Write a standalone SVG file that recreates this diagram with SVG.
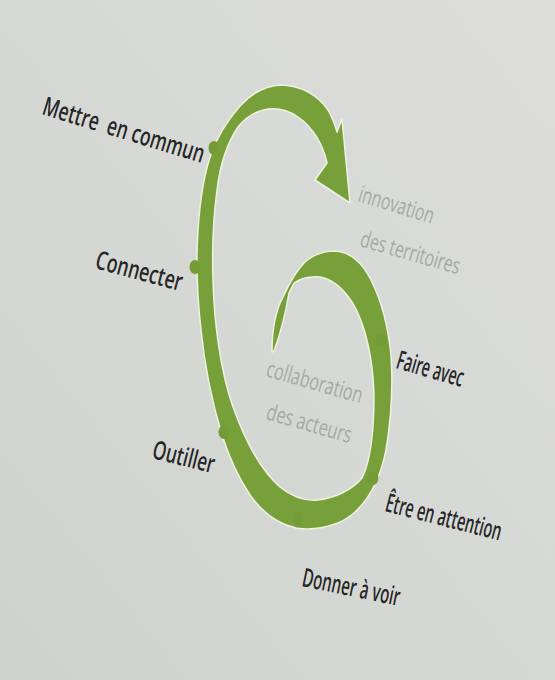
<svg xmlns="http://www.w3.org/2000/svg" width="555" height="680" viewBox="0 0 555 680">
  <defs>
    <linearGradient id="bg" x1="0" y1="1" x2="1" y2="0">
      <stop offset="0" stop-color="#cfd2cd"/>
      <stop offset="1" stop-color="#dddedc"/>
    </linearGradient>
    <style>
      .band { fill: #78a03a; stroke: #eef2e0; stroke-width: 1.5; stroke-linejoin: round; }
      .dot { fill: #739c37; }
      .lbl { font-family: "Liberation Sans Narrow", "Open Sans", "Liberation Sans", sans-serif; font-size: 26px; font-weight: 600; fill: #262727; stroke: #f0f0ee; stroke-width: 0.6; paint-order: stroke; }
      .soft { font-family: "Liberation Sans Narrow", "Open Sans", "Liberation Sans", sans-serif; font-size: 23px; font-weight: 400; fill: #a4a9a2; }
    </style>
  </defs>

  <rect x="0" y="0" width="555" height="680" fill="url(#bg)"/>

  <g id="spiral">
    <path class="band" d="M 272,352
      C 272,330 276,310 283,297
      C 289,284 296,271 305,262
      C 314,254 324,251 335,251
      C 350,252 362,262 371,280
      C 381,300 388,325 391,355
      C 393,385 391,420 386,450
      C 383,465 380,473 377,480
      C 368,500 355,516 338,523
      C 322,529 308,530 296,528
      C 278,524 262,512 250,495
      C 240,480 230,460 222,435
      C 213,405 205,370 201,330
      C 197,295 196,260 198,230
      C 200,200 205,170 212,152
      C 218,135 228,120 240,106
      C 252,93 265,86 280,85
      C 300,85 318,95 328,110
      C 332,117 335,125 337,132
      L 342,119
      L 350,203
      L 315,180
      L 327,163
      C 323,145 313,127 298,117
      C 288,110 278,108 268,109
      C 255,111 245,118 238,127
      C 228,142 220,165 217,190
      C 213,220 212,250 213,280
      C 214,320 220,370 233,407
      C 242,432 258,468 280,487
      C 292,497 305,501 318,500
      C 335,498 352,490 362,478
      C 370,462 374,430 374,395
      C 373,360 366,325 352,302
      C 342,287 332,279 320,277
      C 310,276 300,279 294,283
      L 289,293
      C 286,311 281,332 274,351 Z"/>
  </g>

  <g id="nodes">
    <g id="mettre-en-commun">
      <ellipse class="dot" cx="214" cy="148" rx="5.5" ry="7"/>
      <text class="lbl" xml:space="preserve" transform="translate(41,114) rotate(17) scale(0.68,1)" textLength="247" lengthAdjust="spacingAndGlyphs">Mettre  en commun</text>
    </g>
    <g id="connecter">
      <ellipse class="dot" cx="195" cy="267" rx="5.5" ry="7"/>
      <text class="lbl" transform="translate(94,268) rotate(15) scale(0.68,1)" textLength="131" lengthAdjust="spacingAndGlyphs">Connecter</text>
    </g>
    <g id="outiller">
      <ellipse class="dot" cx="224" cy="432" rx="5.5" ry="7"/>
      <text class="lbl" transform="translate(151,458) rotate(14) scale(0.68,1)" textLength="93" lengthAdjust="spacingAndGlyphs">Outiller</text>
    </g>
    <g id="donner-a-voir">
      <ellipse class="dot" cx="298" cy="518" rx="5.5" ry="7"/>
      <text class="lbl" transform="translate(301,586) rotate(11.6) scale(0.68,1)" textLength="146" lengthAdjust="spacingAndGlyphs">Donner à voir</text>
    </g>
    <g id="etre-en-attention">
      <ellipse class="dot" cx="373" cy="478" rx="5.5" ry="7"/>
      <text class="lbl" transform="translate(384,511) rotate(14.4) scale(0.68,1)" textLength="175" lengthAdjust="spacingAndGlyphs">Être en attention</text>
    </g>
    <g id="faire-avec">
      <ellipse class="dot" cx="381" cy="340" rx="5.5" ry="7"/>
      <text class="lbl" transform="translate(395,368) rotate(16) scale(0.68,1)" textLength="101" lengthAdjust="spacingAndGlyphs">Faire avec</text>
    </g>
    <g id="innovation">
      <text class="soft" transform="translate(357,201) rotate(17) scale(0.75,1)" textLength="104" lengthAdjust="spacingAndGlyphs">innovation</text>
      <text class="soft" transform="translate(359,246) rotate(16) scale(0.75,1)" textLength="137" lengthAdjust="spacingAndGlyphs">des territoires</text>
    </g>
    <g id="collaboration">
      <text class="soft" transform="translate(265,376) rotate(16) scale(0.75,1)" textLength="132" lengthAdjust="spacingAndGlyphs">collaboration</text>
      <text class="soft" transform="translate(265,419) rotate(16) scale(0.75,1)" textLength="117" lengthAdjust="spacingAndGlyphs">des acteurs</text>
    </g>
  </g>
</svg>
